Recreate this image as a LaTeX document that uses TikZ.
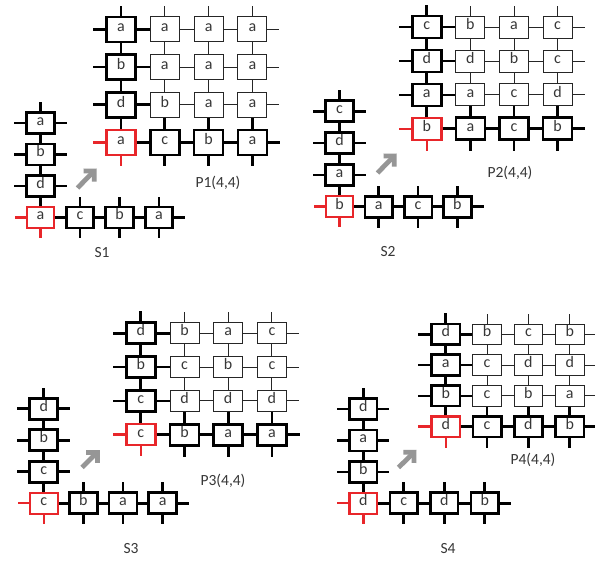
\documentclass[tikz,border=0pt]{standalone}
\usepackage{fontspec}
\setmainfont{Carlito}
\usetikzlibrary{arrows.meta}
\definecolor{cellred}{RGB}{232,38,42}
\definecolor{arrowgray}{RGB}{150,150,150}
\definecolor{inkgray}{RGB}{55,55,55}
\tikzset{
  cellbase/.style={rectangle, fill=white, inner sep=0pt, text=inkgray,
    font=\fontsize{16}{16}\selectfont, text height=1ex, text depth=0pt},
  thickcell/.style={cellbase, draw=black, line width=2.7pt},
  thincell/.style={cellbase, draw=black!85, line width=0.9pt},
  redcell/.style={cellbase, draw=cellred, line width=2.4pt},
  thickwire/.style={draw=black, line width=2.7pt},
  thinwire/.style={draw=black!85, line width=0.9pt},
  redwire/.style={draw=cellred, line width=2.4pt},
  bigarrow/.style={draw=arrowgray, line width=4.8pt, -{Straight Barb[length=7.5pt,width=15pt]}},
  caption/.style={text=inkgray, font=\fontsize{15.5}{15.5}\selectfont, inner sep=0pt}
}
% #1 prefix, #2 ox, #3 oy, #4 dx, #5 dy, #6 w, #7 h, #8 rows bottom->top
\newcommand\Pgrid[8]{%
  \foreach \r [count=\j] in {#8} {
    \foreach \l [count=\i] in \r {
      \pgfmathsetmacro\cx{#2+(\i-1)*#4}
      \pgfmathsetmacro\cy{#3-(\j-1)*#5}
      \tikzset{curcell/.style={thincell}}
      \ifnum\i=1 \tikzset{curcell/.style={thickcell}}\fi
      \ifnum\j=1 \tikzset{curcell/.style={thickcell}}\fi
      \ifnum\i=1 \ifnum\j=1 \tikzset{curcell/.style={redcell}}\fi\fi
      \node[curcell, minimum width=#6pt, minimum height=#7pt] (#1-\i-\j) at (\cx,\cy) {\l};
    }
  }
  \foreach \j in {1,...,4} {
    \foreach \i in {1,2,3} {
      \pgfmathtruncatemacro\n{\i+1}
      \tikzset{curwire/.style={thinwire}}
      \ifnum\i=1 \tikzset{curwire/.style={thickwire}}\fi
      \ifnum\j=1 \tikzset{curwire/.style={thickwire}}\fi
      \draw[curwire] (#1-\i-\j.east) -- (#1-\n-\j.west);
      \draw[curwire] (#1-\j-\i.north) -- (#1-\j-\n.south);
    }
  }
  \foreach \k in {1,...,4} {
    \tikzset{curwire/.style={thinwire}}
    \ifnum\k=1 \tikzset{curwire/.style={thickwire}}\fi
    \draw[curwire] (#1-4-\k.east) -- ++(12,0);
    \draw[curwire] (#1-\k-4.north) -- ++(0,-10);
    \tikzset{curwire/.style={thickwire}}
    \ifnum\k=1 \tikzset{curwire/.style={redwire}}\fi
    \draw[curwire] (#1-1-\k.west) -- ++(-12,0);
    \draw[curwire] (#1-\k-1.south) -- ++(0,10);
  }
}
% #1 prefix, #2 ox, #3 oy, #4 dx, #5 dy, #6 w, #7 h, #8 column bottom->top, #9 row (after corner)
\newcommand\Sshape[9]{%
  \foreach \l [count=\j] in {#8} {
    \pgfmathsetmacro\cy{#3-(\j-1)*#5}
    \tikzset{curcell/.style={thickcell}}
    \ifnum\j=1 \tikzset{curcell/.style={redcell}}\fi
    \node[curcell, minimum width=#6pt, minimum height=#7pt] (#1-1-\j) at (#2,\cy) {\l};
  }
  \foreach \l [count=\k] in {#9} {
    \pgfmathtruncatemacro\i{\k+1}
    \pgfmathsetmacro\cx{#2+\k*#4}
    \node[thickcell, minimum width=#6pt, minimum height=#7pt] (#1-\i-1) at (\cx,#3) {\l};
  }
  \foreach \k in {1,2,3} {
    \pgfmathtruncatemacro\n{\k+1}
    \draw[thickwire] (#1-1-\k.north) -- (#1-1-\n.south);
    \draw[thickwire] (#1-\k-1.east) -- (#1-\n-1.west);
  }
  \foreach \k in {2,3,4} {
    \draw[thickwire] (#1-1-\k.west) -- ++(-11,0);
    \draw[thickwire] (#1-1-\k.east) -- ++(11,0);
    \draw[thickwire] (#1-\k-1.north) -- ++(0,-9);
    \draw[thickwire] (#1-\k-1.south) -- ++(0,9);
  }
  \draw[thickwire] (#1-1-4.north) -- ++(0,-9);
  \draw[thickwire] (#1-4-1.east) -- ++(11,0);
  \draw[redwire] (#1-1-1.west) -- ++(-11,0);
  \draw[redwire] (#1-1-1.south) -- ++(0,9);
}
\begin{document}
\begin{tikzpicture}[x=1pt,y=-1pt]
  \fill[white] (0,0) rectangle (595,561);
  \useasboundingbox (0,0) rectangle (595,561);
  % panel 1
  \Pgrid{p1}{121}{142.5}{43.8}{37.7}{29}{25}{{a,c,b,a},{d,b,a,a},{b,a,a,a},{a,a,a,a}}
  \Sshape{s1}{40.5}{217.5}{39.5}{31.5}{27.5}{21}{a,d,b,a}{c,b,a}
  \coordinate (a1s) at (77.5,188);
  \coordinate (a1e) at (96.5,168.5);
  \draw[bigarrow] (a1s) -- (a1e);
  \node[caption] (l1p) at (218,183) {P1(4,4)};
  \node[caption] (l1s) at (102,253) {S1};
  % panel 2
  \Pgrid{p2}{426.8}{128.8}{43.6}{33.9}{29}{22}{{b,a,c,b},{a,a,c,d},{d,d,b,c},{c,b,a,c}}
  \Sshape{s2}{339.5}{206.7}{39.3}{31.8}{27.5}{21}{b,a,d,c}{a,c,b}
  \coordinate (a2s) at (377.5,173);
  \coordinate (a2e) at (396.5,153.5);
  \draw[bigarrow] (a2s) -- (a2e);
  \node[caption] (l2p) at (510,173) {P2(4,4)};
  \node[caption] (l2s) at (388,252) {S2};
  % panel 3
  \Pgrid{p3}{140.8}{434.7}{43.7}{33.8}{29}{21}{{c,b,a,a},{c,d,d,d},{b,c,b,c},{d,b,a,c}}
  \Sshape{s3}{43.8}{503.3}{39.6}{31.5}{28}{21}{c,c,b,d}{b,a,a}
  \coordinate (a3s) at (82,467.5);
  \coordinate (a3e) at (99.5,450);
  \draw[bigarrow] (a3s) -- (a3e);
  \node[caption] (l3p) at (223,481) {P3(4,4)};
  \node[caption] (l3s) at (131,549) {S3};
  % panel 4
  \Pgrid{p4}{445.8}{426.7}{41.3}{30.8}{28.5}{20.5}{{d,c,d,b},{b,c,b,a},{a,c,d,d},{d,b,c,b}}
  \Sshape{s4}{363.3}{503.3}{40.5}{31.4}{27.5}{21}{d,b,a,d}{c,d,b}
  \coordinate (a4s) at (398.5,467.5);
  \coordinate (a4e) at (416.5,450);
  \draw[bigarrow] (a4s) -- (a4e);
  \node[caption] (l4p) at (533,460) {P4(4,4)};
  \node[caption] (l4s) at (448,549) {S4};
\end{tikzpicture}
\end{document}
